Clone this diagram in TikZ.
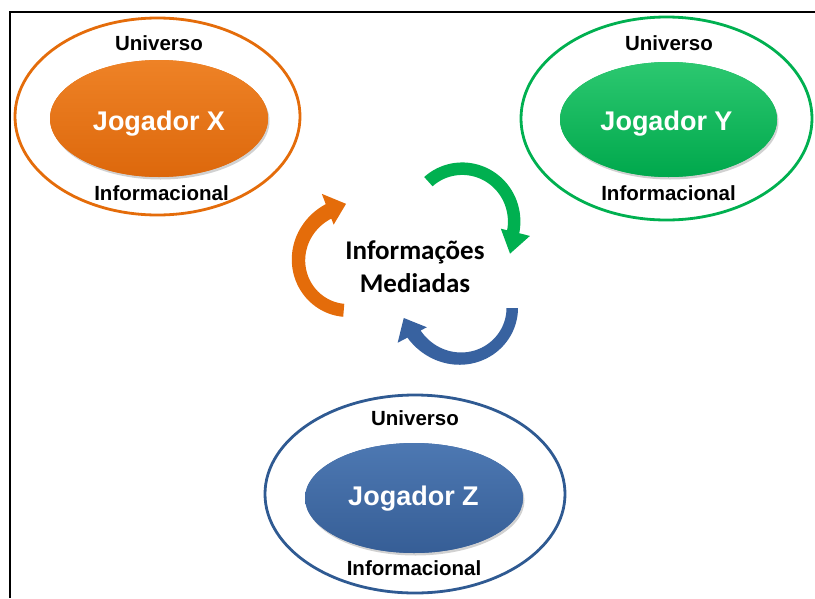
\documentclass[tikz,border=0pt]{standalone}
\usepackage{fontspec}
\setmainfont{Liberation Sans}
\newfontfamily\calibfont{Carlito}
\usetikzlibrary{shapes.geometric}
\definecolor{orRing}{HTML}{E46C0A}
\definecolor{orTop}{HTML}{EE8226}
\definecolor{orMid}{HTML}{E46C0A}
\definecolor{orBot}{HTML}{DD680C}
\definecolor{grRing}{HTML}{00B050}
\definecolor{grTop}{HTML}{2CC870}
\definecolor{grMid}{HTML}{00B050}
\definecolor{grBot}{HTML}{00A84C}
\definecolor{blRing}{HTML}{2F5A92}
\definecolor{blTop}{HTML}{4D78B2}
\definecolor{blMid}{HTML}{3B65A0}
\definecolor{blBot}{HTML}{365E96}
\definecolor{blArrow}{HTML}{3862A0}
\begin{document}
\begin{tikzpicture}[x=1pt,y=1pt,
  ring/.style={ellipse, draw, line width=2.8pt, inner sep=0pt},
  blob/.style={ellipse, inner sep=0pt, preaction={fill=#1}},
  blobshadow/.style={ellipse, inner sep=0pt, fill=black, opacity=0.18},
  playertext/.style={anchor=base, text=white, font=\bfseries\fontsize{27}{32}\selectfont},
  ringtext/.style={anchor=base, font=\bfseries\fontsize{20.5}{24}\selectfont},
  midtext/.style={align=center, font=\calibfont\bfseries\fontsize{27}{33}\selectfont}]
\useasboundingbox (0,0) rectangle (815,-598);
\draw[line width=2.4pt] (10,-598) -- (10,-12) -- (815,-12);

% Player X
\node[ring, draw=orRing, minimum width=285pt, minimum height=197pt] (ringX) at (157.5,-116.5) {};
\node[blobshadow, minimum width=218pt, minimum height=117pt] (shX) at (160.5,-121) {};
\node[blob=orMid, top color=orTop, middle color=orMid, bottom color=orBot, minimum width=218pt, minimum height=117pt] (blobX) at (159,-118.5) {};
\node[playertext] (nameX) at (159,-130) {Jogador X};
\node[ringtext] (uniX) at (159,-50.5) {Universo};
\node[ringtext] (infX) at (161.5,-200) {Informacional};

% Player Y
\node[ring, draw=grRing, minimum width=291pt, minimum height=203pt] (ringY) at (666.5,-118.5) {};
\node[blobshadow, minimum width=217pt, minimum height=115pt] (shY) at (670,-122) {};
\node[blob=grMid, top color=grTop, middle color=grMid, bottom color=grBot, minimum width=217pt, minimum height=115pt] (blobY) at (668.5,-119.5) {};
\node[playertext] (nameY) at (666.5,-130) {Jogador Y};
\node[ringtext] (uniY) at (669,-50.5) {Universo};
\node[ringtext] (infY) at (668.5,-200) {Informacional};

% Player Z
\node[ring, draw=blRing, minimum width=300pt, minimum height=198pt] (ringZ) at (415,-494) {};
\node[blobshadow, minimum width=218pt, minimum height=110pt] (shZ) at (415.5,-500.5) {};
\node[blob=blMid, top color=blTop, middle color=blMid, bottom color=blBot, minimum width=218pt, minimum height=110pt] (blobZ) at (414,-498) {};
\node[playertext] (nameZ) at (413.5,-505) {Jogador Z};
\node[ringtext] (uniZ) at (415,-425.7) {Universo};
\node[ringtext] (infZ) at (414,-575) {Informacional};

% centre
\node[midtext] (mid) at (415,-267) {Informações\\Mediadas};

% cycle arrows (spiral bodies with heads)
\begin{scope}[shift={(348,-262)}]
\fill[orRing]
  plot[variable=\s, domain=0:1, samples=50] ({(55+7*\s^3)*cos(-95-154*\s)}, {(55+7*\s^3)*sin(-95-154*\s)})
  -- (-249:73) -- ([shift={(-249:55)}]-339:19) -- (-249:40)
  -- plot[variable=\s, domain=1:0, samples=50] ({(42+4.5*\s^3)*cos(-95-154*\s)}, {(42+4.5*\s^3)*sin(-95-154*\s)})
  -- cycle;
\end{scope}
\begin{scope}[shift={(462,-219)}]
\fill[grRing]
  plot[variable=\s, domain=0:1, samples=50] ({(56.5+2.5*\s^3)*cos(132-146*\s)}, {(56.5+2.5*\s^3)*sin(132-146*\s)})
  -- (-14:70) -- ([shift={(-14:55)}]-104:22) -- (-14:40)
  -- plot[variable=\s, domain=1:0, samples=50] ({(44+2.5*\s^3)*cos(132-146*\s)}, {(44+2.5*\s^3)*sin(132-146*\s)})
  -- cycle;
\end{scope}
\begin{scope}[shift={(463,-308)}]
\fill[blArrow]
  plot[variable=\s, domain=0:1, samples=50] ({(55+8*\s^3)*cos(-152*\s)}, {(55+8*\s^3)*sin(-152*\s)})
  -- (-152:74) -- ([shift={(-152:57)}]-242:19) -- (-152:41)
  -- plot[variable=\s, domain=1:0, samples=50] ({(43.5+4.5*\s^3)*cos(-152*\s)}, {(43.5+4.5*\s^3)*sin(-152*\s)})
  -- cycle;
\end{scope}
\end{tikzpicture}
\end{document}
